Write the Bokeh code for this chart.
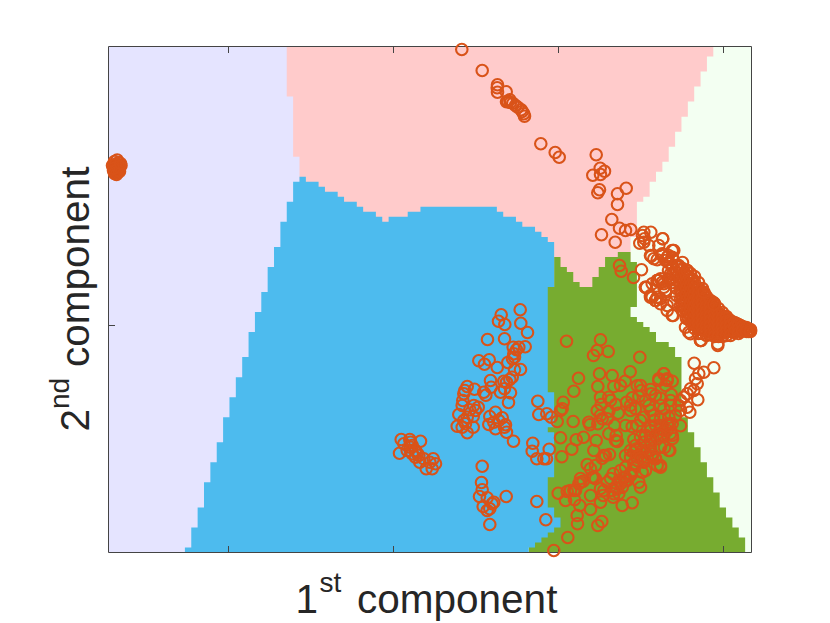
from math import pi
from bokeh.plotting import figure
from bokeh.models import Label
from bokeh.embed import file_html
from bokeh.resources import INLINE

# Axis extents and ticks (no numeric labels in the chart; units are arbitrary)
X_MAX = 643.0
Y_MAX = 506.0
X_TICKS = [120, 285, 450, 615]
Y_TICKS = [227]
GRID_N = 101

# Decision regions, read as cells of a 101 x 101 grid: rows count from the top
PINK_LEFT_ROWS = [0, 10, 22]
PINK_LEFT_COLS = [28, 29, 30]
PINK_RIGHT_ROWS = [0, 2, 5, 8, 11, 14, 17, 20, 23, 25, 27, 30, 31, 38]
PINK_RIGHT_COLS = [95, 94, 93, 92, 91, 90, 89, 88, 87, 86, 85, 84, 83, 82]
PINK_END_ROW = 48

BLUE_LEFT_ROWS = [26, 27, 31, 35, 40, 44, 49, 53, 57, 62, 66, 70, 74, 79, 83, 87, 92, 96, 100]
BLUE_LEFT_COLS = [30, 29, 28, 27, 26, 25, 24, 23, 22, 21, 20, 19, 18, 17, 16, 15, 14, 13, 12]
BLUE_TOP_FIRST_COL = 30
BLUE_TOPS = [26, 27, 27, 28, 29, 29, 30, 31, 31, 32, 33, 33, 34, 35, 34, 34, 34, 33, 33, 32,
             32, 32, 32, 32, 32, 32, 32, 32, 32, 32, 32, 33, 34, 34, 35, 36, 36, 37, 38, 39]
BLUE_RIGHT_ROWS = [39, 48, 69, 76, 77, 86, 92, 94, 96, 97, 98, 99, 100]
BLUE_RIGHT_COLS = [70, 69, 70, 69, 70, 69, 70, 71, 70, 69, 68, 67, 66]

GREEN_TOP_FIRST_COL = 66
GREEN_TOPS = [48, 48, 48, 48, 42, 44, 45, 47, 48, 48, 46, 44, 42, 42, 41, 41, 43]
GREEN_RIGHT_ROWS = [43, 52, 54, 55, 56, 57, 59, 60, 62, 74, 77, 80, 83, 86, 89, 92, 94, 96, 98]
GREEN_RIGHT_COLS = [83, 82, 83, 84, 85, 86, 88, 89, 90, 91, 92, 93, 94, 95, 96, 97, 98, 99, 100]

MINT_LEFT_COL = 76

# Scatter points
blob_x = [8.7, 4, 12.5, 7, 8, 5, 10, 9, 6, 11, 8, 5.5, 10, 6, 9, 7, 10, 8, 6, 8, 11, 5, 12]
blob_y = [392.5, 387, 387, 380, 384, 382, 390, 380, 391, 384, 388, 387, 382, 385, 385, 388, 386, 382, 379, 378, 381, 384, 389]

upper_x = [353.3, 373.7, 389, 388.7, 389, 397.7, 399.3, 401.3, 398, 402, 404.3, 407, 409.3, 412.7, 413.7, 415.3, 416,
           432.3, 446.7, 450.7, 487.7, 491.7, 496, 492, 484.3, 491, 489.3, 517.7, 509, 509, 503.3, 511, 517, 522.3,
           493, 506.7]
upper_y = [503, 482, 467.7, 464.7, 460.3, 460.7, 451.3, 452.7, 450.7, 450, 449.3, 447, 445.3, 442.7, 441, 438.7, 436.3,
           408.7, 400, 395.3, 397.7, 384.3, 381.3, 378, 377.3, 362.7, 359.7, 364.3, 358.7, 348, 333, 324.3, 322, 323,
           317.7, 310.3]

fringe_x = [535.3, 542.3, 534, 536, 531.3, 535.3, 540.3, 554, 550.3, 564.7, 542.7, 548.7, 553.7, 558.7, 563.7,
            533, 525, 511, 512.7, 538, 550.3, 542, 548.7, 555.3, 560.3, 570.3, 594.7, 604.7,
            537, 543.7, 548.7, 553.7, 542, 547, 552, 557, 562, 578.7, 583.7, 595.3, 605.3, 592, 609.3,
            580.3, 577, 564.7, 558.7, 554.3, 563.7]
fringe_y = [320.3, 320.3, 317, 313.7, 309.3, 310.3, 307, 313.7, 307, 302, 296.3, 292.7, 298.7, 295.3, 295.3,
            282.7, 275, 287, 281.3, 265, 272, 257, 255.3, 265.3, 273.7, 285.3, 260.3, 250.3,
            265.3, 268.7, 272, 270.3, 255.3, 252, 248.7, 260.3, 278.7, 282, 273.7, 260.3, 248.7, 212, 207,
            220.3, 225.3, 237, 242, 313.7, 302]

band_x = [560, 560, 560,
          564, 564, 564, 564,
          568, 568, 568, 568, 568,
          572, 572, 572, 572, 572, 572,
          576, 576, 576, 576, 576, 576,
          580, 580, 580, 580, 580, 580, 580,
          584, 584, 584, 584, 584, 584, 584,
          588, 588, 588, 588, 588, 588, 588,
          592, 592, 592, 592, 592, 592, 592,
          596, 596, 596, 596, 596, 596, 596,
          600, 600, 600, 600, 600, 600, 600,
          604, 604, 604, 604, 604, 604,
          608, 608, 608, 608, 608, 608,
          612, 612, 612, 612, 612,
          616, 616, 616, 616, 616,
          620, 620, 620, 620, 620,
          624, 624, 624, 624,
          628, 628, 628,
          632, 632, 632,
          636, 636,
          640, 640,
          642]
band_y = [297, 290, 282,
          294, 286, 278, 270,
          287, 280, 272, 264, 257,
          282, 276, 269, 262, 254, 247,
          280, 272, 265, 258, 251, 244,
          276, 269, 262, 255, 248, 240, 234,
          273, 266, 260, 253, 246, 239, 232,
          264, 258, 252, 245, 238, 232, 226,
          261, 255, 249, 243, 237, 231, 225,
          258, 252, 246, 240, 234, 228, 223,
          252, 246, 241, 236, 231, 226, 221,
          247, 242, 237, 232, 227, 222,
          242, 238, 233, 228, 223, 220,
          238, 234, 230, 226, 222,
          236, 232, 228, 224, 220,
          233, 230, 227, 224, 221,
          230, 227, 224, 221,
          229, 226, 223,
          227, 224, 221,
          225, 222,
          223, 221,
          222]

band_fill_x = [574, 574, 574, 574, 574, 574, 574, 574, 574,
               578, 578, 578, 578, 578, 578, 578, 578, 578,
               582, 582, 582, 582, 582, 582, 582, 582, 582,
               586, 586, 586, 586, 586, 586, 586, 586, 586, 586,
               590, 590, 590, 590, 590, 590, 590, 590, 590, 590, 590,
               594, 594, 594, 594, 594, 594, 594, 594, 594, 594,
               598, 598, 598, 598, 598, 598, 598, 598, 598,
               602, 602, 602, 602, 602, 602, 602, 602,
               606, 606, 606, 606, 606, 606, 606, 606,
               610, 610, 610, 610, 610, 610, 610,
               614, 614, 614, 614, 614, 614,
               618, 618, 618, 618, 618,
               622, 622, 622, 622,
               626, 626, 626,
               630, 630, 630,
               634, 634,
               638, 638,
               642, 642]
band_fill_y = [290, 284, 278, 272, 266, 260, 254, 248, 242,
               282, 276, 270, 264, 258, 252, 246, 240, 234,
               279, 273, 267, 261, 255, 249, 243, 237, 231,
               276, 270, 264, 258, 252, 246, 240, 234, 228, 224,
               270, 264, 259, 254, 249, 244, 239, 234, 229, 224, 219,
               264, 259, 254, 249, 244, 239, 234, 229, 224, 219,
               256, 251, 246, 241, 236, 231, 226, 221, 217,
               252, 247, 242, 237, 232, 227, 222, 218,
               249, 244, 239, 234, 229, 224, 219, 216,
               244, 239, 234, 229, 224, 219, 216,
               240, 235, 230, 225, 220, 216,
               236, 231, 226, 221, 217,
               232, 227, 222, 217,
               230, 225, 220,
               228, 223, 219,
               226, 222,
               225, 221,
               223, 221]

band_edge_x = [537, 548.7, 552, 543.7, 547, 552, 558.7, 563.7, 565.3, 557, 555.3, 560.3,
               565.3, 553.7, 545.3, 542, 557, 562, 570.3, 578.7, 595.3, 605.3, 582, 592]
band_edge_y = [265.3, 272, 273.7, 255.3, 252, 253.7, 247, 237, 250.3, 262, 268.7, 272,
               302, 297, 293.7, 297, 292, 288.7, 287, 282, 260.3, 248.7, 218.7, 212]

low_cluster_x = [292.7, 301.3, 312, 295.3, 302, 307, 291, 303.7, 310.3, 315.3, 311.3, 317.7, 307, 298.7, 302, 303.7, 308.7,
                 324.7, 327, 323.7, 321.3]
low_cluster_y = [113, 113, 111.3, 108.7, 105.3, 102, 99.3, 98.7, 97, 93.7, 90.3, 83.7, 95.3, 102, 110.3, 107, 99.3,
                 93.7, 88.7, 83.7, 90.3]

blue_x = [411.7, 392.7, 390, 396.3, 412.3, 419, 379, 396, 416.7, 410.3, 404.7, 408, 405.3, 406, 404, 370.3, 376, 380.7,
          399.3, 388.7, 406, 412, 403.7, 382, 395.3, 401.3, 398, 382.7, 396, 392, 402, 377.3, 375.3, 400, 366, 358.7,
          356.3, 355.3, 354.3, 353.7, 365.3, 369.7, 367, 361.3, 350.3, 358.7, 364.7, 387, 381.3, 393.7, 385.3, 390.3,
          380.3, 387, 397, 398, 396, 405, 348.7, 353.7, 358.7, 364.7, 355.3, 357, 429.3, 430.3, 438.3, 442.7, 424.3,
          423.7, 440.7, 428.3, 435.3, 438, 373.7, 373, 373.7, 371, 397.7, 378.7, 385.3, 374.7, 378.7, 381.3, 383.7,
          381.3, 428.3, 437.3]
blue_y = [242.7, 237.7, 231.3, 228, 229.3, 220, 213, 213.7, 205.7, 205.3, 205.3, 202.7, 198.7, 195.3, 193.7, 191.7, 188.3, 192.7,
          190, 185, 182.7, 183, 175.3, 172, 171.3, 173, 170.3, 165.3, 163.7, 160.3, 159.7, 157.3, 160.3, 150, 163.3, 166,
          162, 158.7, 152, 147, 147, 145.3, 142, 142.7, 138, 135.3, 136, 140.3, 136, 134.7, 130.3, 132,
          128, 123.7, 127.7, 120.3, 125.3, 111.3, 126.3, 125.3, 119.7, 125.3, 132, 128.7, 151.3, 138, 138.7, 135.3, 109.3,
          101.3, 103.3, 93.7, 93.7, 93.7, 86.3, 70, 62.7, 56, 56, 54.7, 50.3, 46, 42, 43.7, 48.7,
          28, 51, 32.7]

green_x = [458, 492, 488.7, 485, 499.7, 531.3, 491, 503.7, 521.7, 470, 516.7, 489.3, 505.3, 528.7, 465.3, 555.3, 550.3,
           558.7, 563.7, 542, 532.7, 530.3, 492, 500.3, 523.7, 542.7, 552, 562.7, 454.7, 452, 453.7, 492.7, 507.3, 518,
           540.3, 527, 488.7, 500.3, 509.7, 522, 555.3, 562, 448.7, 464.7, 480.3, 481.3, 489.3, 493.7, 498.7, 506, 523.7,
           528.7, 535.3, 545.3, 552, 560.3, 572, 563.7, 552, 558.7, 563.7, 542, 537, 542, 452, 467.7, 475, 500.3, 507.7,
           508.7, 487.7, 525.3, 535.3, 542, 548.7, 555.3, 463.3, 485.3, 453.3, 522, 528, 533.7, 542, 552, 561.3, 495.3,
           501, 493.7, 478.7, 522, 528.7, 538.7, 547, 552, 548.7, 535.3, 517, 525.3, 533.7, 522, 482, 485.3, 504.7,
           474.7, 470.3, 467, 498.7, 510.3, 517, 522, 530.3, 532, 458.7, 449.7, 457, 466, 471.3, 495.3, 494.7, 492, 482,
           504.7, 510.3, 513.7, 523.7, 507, 513.7, 468.7, 469, 489.3, 493.3, 459.3, 445.3,
           545.3, 552, 558.7, 555.3, 542, 562, 548.7, 537, 532, 525.3, 530.3, 537, 543.7, 528.7, 535.3, 515.3, 518.7,
           512, 508.7, 505.3, 483.7, 487, 472, 465.3, 552, 560.3, 543.7, 550.3, 558.7, 555.3]
green_y = [211.3, 212.7, 202, 197, 201, 195.3, 178.7, 177, 180.7, 174.3, 171.3, 166, 166, 166.7, 161.3, 178.7, 173.7,
           173.7, 171.3, 163, 162, 156, 155.3, 155.3, 154.7, 158.7, 154.3, 158, 150.3, 142, 143.7, 148, 148, 150.3,
           147, 143.7, 142, 141.3, 139.3, 142, 143.7, 147, 131, 131, 130.3, 127.7, 128.7, 133.7, 133.7, 127.3, 126,
           127, 135.3, 137, 133.7, 135.3, 126.7, 128.7, 123.7, 122, 117, 122, 117, 115.3, 114.7, 112.7, 115.3, 118.7, 117,
           111, 112, 113, 110.3, 112, 113.7, 117, 103.3, 102, 95.7, 102, 103.7, 102, 102, 105.3, 102, 97,
           98, 94.3, 88, 95.3, 95.3, 95.3, 93.7, 87, 87, 90.3, 85.3, 88.7, 80.3, 78.7, 83.7, 75.3, 78.7,
           71.3, 68.7, 62, 70.3, 72, 75.3, 77, 70.3, 65.3, 61, 59.3, 52, 52.7, 47, 62, 57, 50.3, 43,
           55.3, 58.7, 47, 49.7, 65.3, 65.3, 37, 28.7, 27, 31, 15, 2,
           132, 127, 128.7, 122, 125.3, 118.7, 118.7, 117, 115.3, 100.3, 97, 100.3, 98.7, 92, 92, 75.3, 72,
           68.7, 63.7, 58.7, 75.3, 73.7, 70.3, 62, 85.3, 102, 95.3, 172, 172, 178.7]

green_core_x = [537, 547, 557, 542, 552, 562, 567, 532, 547, 560, 572, 537, 552, 564, 527, 542, 556, 517, 532, 547,
                512, 524, 537, 502, 517, 492, 504, 482, 462, 472, 487, 497, 507, 517, 522, 532, 502, 512, 492]
green_core_y = [152, 157, 167, 142, 147, 152, 137, 132, 127, 127, 142, 117, 117, 114, 107, 107, 105, 97, 94, 94,
                82, 82, 82, 74, 72, 64, 62, 57, 62, 74, 87, 97, 112, 127, 147, 167, 152, 167, 137]

mint_x = [585.7, 605.3, 595.3, 590.3, 587, 588.7, 582, 578.7, 575.3, 589.3, 585.3, 572, 578.7, 581.3, 570.3, 592.7, 609.3, 605.3]
mint_y = [189.3, 184.7, 180.3, 178.7, 173.7, 168.7, 163.7, 158.7, 155.3, 152.7, 162, 152, 145.3, 140.3, 147, 212, 208.7, 248]

points_x = blob_x + upper_x + fringe_x + band_x + band_fill_x + band_edge_x + low_cluster_x + blue_x + green_x + green_core_x + mint_x
points_y = blob_y + upper_y + fringe_y + band_y + band_fill_y + band_edge_y + low_cluster_y + blue_y + green_y + green_core_y + mint_y

# Helpers turning the grid reading into plot coordinates
cell_w = X_MAX / GRID_N
cell_h = Y_MAX / GRID_N


def gx(col):
    return col * cell_w


def gy(row):
    return Y_MAX - row * cell_h


def edge_path(rows, cols, end_row):
    out = []
    ends = rows[1:] + [end_row]
    for start, stop, col in zip(rows, ends, cols):
        out.append((col, start))
        out.append((col, stop))
    return out


def top_path(first_col, tops):
    out = []
    for i, top in enumerate(tops):
        out.append((first_col + i, top))
        out.append((first_col + i + 1, top))
    return out


def xs_ys(path):
    return [gx(c) for c, _ in path], [gy(r) for _, r in path]


# The frame fills the whole canvas so that markers and the axis titles can overhang the box.
WIDTH = 830
HEIGHT = 623
LEFT_ROOM = 108
TOP_ROOM = 46
p = figure(frame_width=WIDTH, frame_height=HEIGHT, width=WIDTH, height=HEIGHT,
           min_border=0,
           x_range=(-LEFT_ROOM, WIDTH - LEFT_ROOM),
           y_range=(Y_MAX + TOP_ROOM - HEIGHT, Y_MAX + TOP_ROOM),
           output_backend="svg", toolbar_location=None)
p.axis.visible = False
p.grid.visible = False
p.outline_line_color = None
p.background_fill_color = "white"
p.border_fill_color = "white"

LILAC = "#E5E4FF"
MINT = "#F3FFF2"
PINK = "#FFCBCB"
BLUE = "#4DBBEE"
GREEN = "#77AC30"
ORANGE = "#D95319"
AXIS = "#444444"

p.patch([0, X_MAX, X_MAX, 0], [0, 0, Y_MAX, Y_MAX], fill_color=LILAC, line_color=None)
p.patch([gx(MINT_LEFT_COL), X_MAX, X_MAX, gx(MINT_LEFT_COL)], [0, 0, Y_MAX, Y_MAX], fill_color=MINT, line_color=None)

pink_path = edge_path(PINK_LEFT_ROWS, PINK_LEFT_COLS, PINK_END_ROW) + \
    edge_path(PINK_RIGHT_ROWS, PINK_RIGHT_COLS, PINK_END_ROW)[::-1]
x_, y_ = xs_ys(pink_path)
p.patch(x_, y_, fill_color=PINK, line_color=None)

green_path = top_path(GREEN_TOP_FIRST_COL, GREEN_TOPS) + edge_path(GREEN_RIGHT_ROWS, GREEN_RIGHT_COLS, GRID_N) + \
    [(GREEN_TOP_FIRST_COL, GRID_N)]
x_, y_ = xs_ys(green_path)
p.patch(x_, y_, fill_color=GREEN, line_color=None)

blue_path = top_path(BLUE_TOP_FIRST_COL, BLUE_TOPS) + edge_path(BLUE_RIGHT_ROWS, BLUE_RIGHT_COLS, GRID_N) + \
    edge_path(BLUE_LEFT_ROWS, BLUE_LEFT_COLS, GRID_N)[::-1]
x_, y_ = xs_ys(blue_path)
p.patch(x_, y_, fill_color=BLUE, line_color=None)

# Box and inward ticks on all four sides
p.line([0, X_MAX, X_MAX, 0, 0], [0, 0, Y_MAX, Y_MAX, 0], line_color=AXIS, line_width=1)
T = 6.5
p.segment(X_TICKS, [0] * len(X_TICKS), X_TICKS, [T] * len(X_TICKS), line_color=AXIS, line_width=1)
p.segment(X_TICKS, [Y_MAX] * len(X_TICKS), X_TICKS, [Y_MAX - T] * len(X_TICKS), line_color=AXIS, line_width=1)
p.segment([0] * len(Y_TICKS), Y_TICKS, [T] * len(Y_TICKS), Y_TICKS, line_color=AXIS, line_width=1)
p.segment([X_MAX] * len(Y_TICKS), Y_TICKS, [X_MAX - T] * len(Y_TICKS), Y_TICKS, line_color=AXIS, line_width=1)

p.scatter(points_x, points_y, marker="circle", size=11.5, fill_color=None, line_color=ORANGE, line_width=2.1)

FONT = "Liberation Sans"
TEXT = "#262626"


def add_text(x, y, s, size, angle=0.0):
    p.add_layout(Label(x=x, y=y, text=s, text_font=FONT, text_font_size=f"{size}px", text_color=TEXT,
                       angle=angle, text_align="left", text_baseline="alphabetic"))


add_text(187, -46, "1", 40.5)
add_text(211, -29.5, "st", 28)
add_text(248.5, -46, "component", 40.5)

add_text(-34, 121, "2", 40.5, pi / 2)
add_text(-49, 143.5, "nd", 28, pi / 2)
add_text(-34, 185.5, "component", 40.5, pi / 2)

open("out.html", "w").write(file_html(p, INLINE))
